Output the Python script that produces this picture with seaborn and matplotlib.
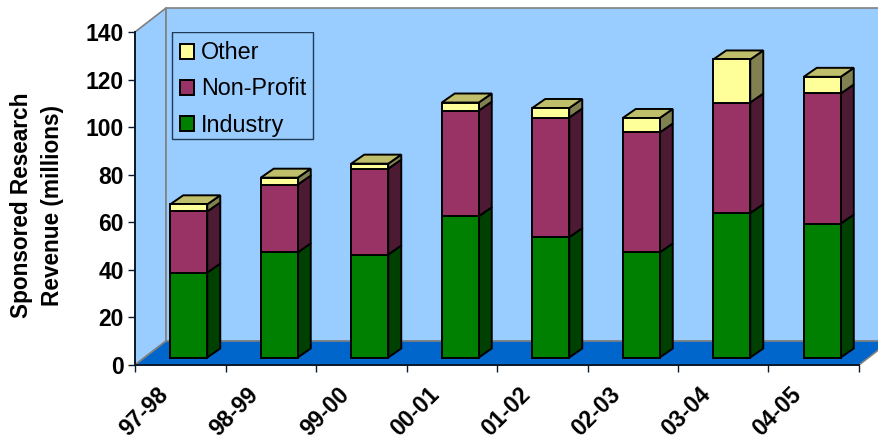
import matplotlib
matplotlib.use("Agg")
import matplotlib.pyplot as plt
import seaborn as sns
from matplotlib.patches import Polygon, Rectangle
from matplotlib.transforms import ScaledTranslation

# Sponsored research revenue (millions)
years = ['97-98', '98-99', '99-00', '00-01', '01-02', '02-03', '03-04', '04-05']
industry = [35.7, 44.2, 43.3, 59.4, 50.6, 44.2, 60.7, 56.3]
non_profit = [25.7, 28.5, 36.1, 44.4, 50.3, 50.4, 46.5, 54.7]
other = [3.0, 2.9, 2.1, 3.4, 4.0, 6.1, 18.1, 7.0]
y_ticks = [0, 20, 40, 60, 80, 100, 120, 140]

# Layout in pixels of the 879x441 picture
FIG_W, FIG_H = 879, 441
AX_LEFT, AX_RIGHT, AX_TOP, AX_BOTTOM = 135, 859, 32, 365
WALL_DX, WALL_DY = 31, 24
BAR_DX, BAR_DY = 13, 9
BAR_SHIFT_X, BAR_LIFT_Y = 8.5, 7.5

WALL_COLOR = '#99CCFF'
FLOOR_COLOR = '#0066CC'
WALL_EDGE = '#808080'
AXIS_COLOR = '#0B1A2B'


def main():
    sns.set_theme(style='white')
    plt.rcParams['font.family'] = ['Liberation Sans', 'DejaVu Sans']

    fig = plt.figure(figsize=(FIG_W / 100, FIG_H / 100), dpi=100)
    ax = fig.add_axes([AX_LEFT / FIG_W, 1 - AX_BOTTOM / FIG_H,
                       (AX_RIGHT - AX_LEFT) / FIG_W,
                       (AX_BOTTOM - AX_TOP) / FIG_H])
    ax.patch.set_visible(False)

    draw_walls(ax)
    draw_bars(ax)
    style_axes(ax)
    draw_legend(ax)
    fig.savefig('out.png', dpi=100, facecolor='white')


def draw_walls(ax):
    """
    Draws the left wall, back wall and floor of the 3D box behind the bars.
    """
    dx = WALL_DX / (AX_RIGHT - AX_LEFT)
    dy = WALL_DY / (AX_BOTTOM - AX_TOP)
    left = [(0, 0), (dx, dy), (dx, 1 + dy), (0, 1)]
    back = [(dx, dy), (1 + dx, dy), (1 + dx, 1 + dy), (dx, 1 + dy)]
    floor = [(0, 0), (1, 0), (1 + dx, dy), (dx, dy)]
    for points, color, z in [(left, WALL_COLOR, 0.1), (back, WALL_COLOR, 0.2),
                             (floor, FLOOR_COLOR, 0.3)]:
        ax.add_patch(Polygon(points, closed=True, transform=ax.transAxes,
                             facecolor=color, edgecolor=WALL_EDGE, linewidth=1.2,
                             clip_on=False, zorder=z))


def draw_bars(ax):
    """
    Stacks the three series with seaborn, then adds the side and top faces
    worked out from each bar that seaborn drew.
    """
    x_unit = (AX_RIGHT - AX_LEFT) / len(years)
    y_unit = (AX_BOTTOM - AX_TOP) / y_ticks[-1]
    lift = BAR_LIFT_Y / y_unit
    series = [
        ('Industry', industry, '#008000', '#004000', None),
        ('Non-Profit', non_profit, '#993366', '#4D1A33', None),
        ('Other', other, '#FFFF99', '#808050', '#BFBF6B'),
    ]
    bottoms = [lift] * len(years)
    for name, values, front, side, top in series:
        before = len(ax.patches)
        sns.barplot(x=years, y=values, ax=ax, color=front, saturation=1,
                    width=37 / x_unit, errorbar=None, label=name,
                    bottom=bottoms, edgecolor='black', linewidth=1.4,
                    legend=False, zorder=5)
        for bar in ax.patches[before:]:
            bar.set_x(bar.get_x() + BAR_SHIFT_X / x_unit)
            add_depth(ax, bar, side, top, BAR_DX / x_unit, BAR_DY / y_unit)
        bottoms = [b + v for b, v in zip(bottoms, values)]


def add_depth(ax, bar, side, top, dx, dy):
    """
    Adds the right side of a bar, and its top face if top is given.
    """
    x0, x1 = bar.get_x(), bar.get_x() + bar.get_width()
    y0, y1 = bar.get_y(), bar.get_y() + bar.get_height()
    ax.add_patch(Polygon([(x1, y0), (x1 + dx, y0 + dy), (x1 + dx, y1 + dy),
                          (x1, y1)], closed=True, facecolor=side,
                         edgecolor='black', linewidth=1.4, zorder=4))
    if top is not None:
        ax.add_patch(Polygon([(x0, y1), (x1, y1), (x1 + dx, y1 + dy),
                              (x0 + dx, y1 + dy)], closed=True, facecolor=top,
                             edgecolor='black', linewidth=1.4, zorder=4))


def style_axes(ax):
    """
    Sets the limits, ticks, tick labels and axis title.
    """
    ax.set_xlim(-0.5, len(years) - 0.5)
    ax.set_ylim(y_ticks[0], y_ticks[-1])
    ax.set_yticks(y_ticks)
    ax.tick_params(axis='y', left=True, length=5, width=1, color=AXIS_COLOR,
                   pad=3, labelsize=16.5, labelcolor='black')
    for label in ax.get_yticklabels():
        label.set_fontweight('bold')

    ax.set_xticks(range(len(years)))
    ax.set_xticklabels(years, rotation=45, ha='right', rotation_mode='anchor',
                       fontsize=16.5, fontweight='bold', color='black')
    ax.set_xticks([i - 0.5 for i in range(len(years) + 1)], minor=True)
    ax.tick_params(axis='x', which='major', bottom=False, length=0, pad=13)
    ax.tick_params(axis='x', which='minor', bottom=True, length=5, width=1,
                   color=AXIS_COLOR)
    # the rotated labels end left of the slot centre
    shift = ScaledTranslation(-24 / 100, 0, ax.figure.dpi_scale_trans)
    for label in ax.get_xticklabels():
        label.set_transform(label.get_transform() + shift)

    for name in ['top', 'right']:
        ax.spines[name].set_visible(False)
    for name in ['left', 'bottom']:
        ax.spines[name].set_visible(True)
        ax.spines[name].set_color(AXIS_COLOR)
        ax.spines[name].set_linewidth(1.4)
        ax.spines[name].set_zorder(6)

    ax.set_xlabel('')
    ax.set_ylabel('Sponsored Research\nRevenue (millions)', fontsize=16.3,
                  fontweight='bold', color='black', linespacing=1.42)
    width = AX_RIGHT - AX_LEFT
    height = AX_BOTTOM - AX_TOP
    ax.yaxis.set_label_coords((64 - AX_LEFT) / width, (AX_BOTTOM - 205) / height)


def draw_legend(ax):
    """
    Draws the legend in the top left of the back wall, Other first. The box
    is its own rectangle because the legend frame came out too tall.
    """
    width = AX_RIGHT - AX_LEFT
    height = AX_BOTTOM - AX_TOP
    ax.add_patch(Rectangle(((172 - AX_LEFT) / width, (AX_BOTTOM - 139) / height),
                           141 / width, 107 / height, transform=ax.transAxes,
                           facecolor='none', edgecolor='#1F3A55', linewidth=1,
                           zorder=6))
    handles, labels = ax.get_legend_handles_labels()
    legend = ax.legend(handles[::-1], labels[::-1], loc='upper left',
                       bbox_to_anchor=((172 - AX_LEFT) / width, 1 - 1 / height),
                       borderaxespad=0, fontsize=16.8, frameon=False,
                       handlelength=0.58, handleheight=0.62,
                       handletextpad=0.3, labelspacing=0.56, borderpad=0.36,
                       labelcolor='black')
    legend.set_zorder(7)


if __name__ == '__main__':
    main()
